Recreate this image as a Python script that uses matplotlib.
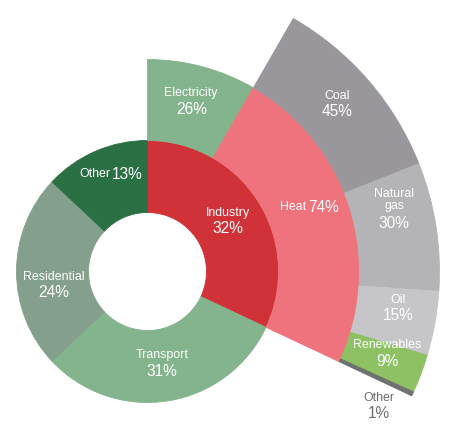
import numpy as np
import matplotlib
matplotlib.use("Agg")
import matplotlib.pyplot as plt

# ---------------- data ----------------
sectors = ["Industry", "Transport", "Residential", "Other"]
sector_share = [32, 31, 24, 13]

industry_uses = ["Electricity", "Heat"]
industry_use_share = [26, 74]

heat_sources = ["Coal", "Natural gas", "Oil", "Renewables", "Other"]
heat_source_share = [45, 30, 15, 9, 1]

# ---------------- style ----------------
sector_colors = ["#D03238", "#84B48D", "#84A08C", "#2B6F44"]
use_colors = ["#84B48D", "#EE737C"]
source_colors = ["#9A979C", "#B4B3B6", "#C6C5C8", "#8DC163", "#6E716F"]

W, H = 469, 434
CX, CY = 147.5, 271.5          # centre in pixels
R_HOLE, R1, R2, R3 = 59, 131, 212, 292

plt.rcParams["font.family"] = ["Liberation Sans", "DejaVu Sans"]
NAME_FS, PCT_FS = 8.9, 11.2

fig = plt.figure(figsize=(W / 100, H / 100), dpi=100)
ax = fig.add_axes([0, 0, 1, 1])


def ring(values, radius, width, colors, startangle=90):
    wedges, _ = ax.pie(values, radius=radius, startangle=startangle,
                       counterclock=False, colors=colors,
                       wedgeprops=dict(width=width, linewidth=0.6))
    for w, c in zip(wedges, colors):
        if c == "none":
            w.set_visible(False)
        else:
            w.set_edgecolor(c)
    return wedges


# inner ring: sectors
ring([v / 100 for v in sector_share], R1, R1 - R_HOLE, sector_colors)

# middle ring: industry split
ind = sector_share[0] / 100
mid_vals = [ind * v / 100 for v in industry_use_share] + [1 - ind]
ring(mid_vals, R2, R2 - R1, use_colors + ["none"])

# outer ring: heat split
heat = ind * industry_use_share[1] / 100
start_heat = 90 - 360 * ind * industry_use_share[0] / 100
out_vals = [heat * v / 100 for v in heat_source_share] + [1 - heat]
ring(out_vals, R3, R3 - R2, source_colors + ["none"], startangle=start_heat)

ax.set_xlim(-CX, W - CX)
ax.set_ylim(-(H - CY), CY)
ax.set_aspect("equal")
ax.axis("off")


# ---------------- labels ----------------
def mids(values, start=0.0, scale=1.0):
    out, a = [], start
    for v in values:
        span = 360 * v * scale
        out.append(a + span / 2)
        a += span
    return out


def put(theta, r, name, pct, inline=False, color="white"):
    t = np.radians(theta)
    x, y = r * np.sin(t), r * np.cos(t)
    if inline:
        ax.text(x - 1, y, name, ha="right", va="center", fontsize=NAME_FS, color=color)
        ax.text(x + 1, y, pct, ha="left", va="center", fontsize=PCT_FS, color=color)
    else:
        nlines = name.count("\n") + 1
        ax.text(x, y + 8 + 7 * (nlines - 1), name, ha="center", va="center",
                fontsize=NAME_FS, color=color, linespacing=1.05)
        ax.text(x, y - 8, pct, ha="center", va="center", fontsize=PCT_FS, color=color)


sector_mid = mids([v / 100 for v in sector_share])
sector_delta = [0, 0, -8, 3]
sector_r = [95, 93, 95, 104]
for i, s in enumerate(sectors):
    put(sector_mid[i] + sector_delta[i], sector_r[i], s, f"{sector_share[i]}%",
        inline=(s == "Other"))

use_mid = mids([v / 100 for v in industry_use_share], 0, ind)
use_delta = [-0.6, -4.6]
for i, s in enumerate(industry_uses):
    put(use_mid[i] + use_delta[i], [176, 172][i], s, f"{industry_use_share[i]}%",
        inline=(s == "Heat"))

src_start = 360 * ind * industry_use_share[0] / 100
src_mid = mids([v / 100 for v in heat_source_share], src_start, heat)
src_names = ["Coal", "Natural\ngas", "Oil", "Renewables"]
src_delta = [-0.7, -4.0, -2.0, -1.7]
for i in range(4):
    put(src_mid[i] + src_delta[i], 253, src_names[i], f"{heat_source_share[i]}%")
# tiny "Other" slice labelled outside
put(src_mid[4] + 5.3, 268, heat_sources[4], f"{heat_source_share[4]}%", color="#6E6E6E")

fig.savefig("out.png", dpi=100)
